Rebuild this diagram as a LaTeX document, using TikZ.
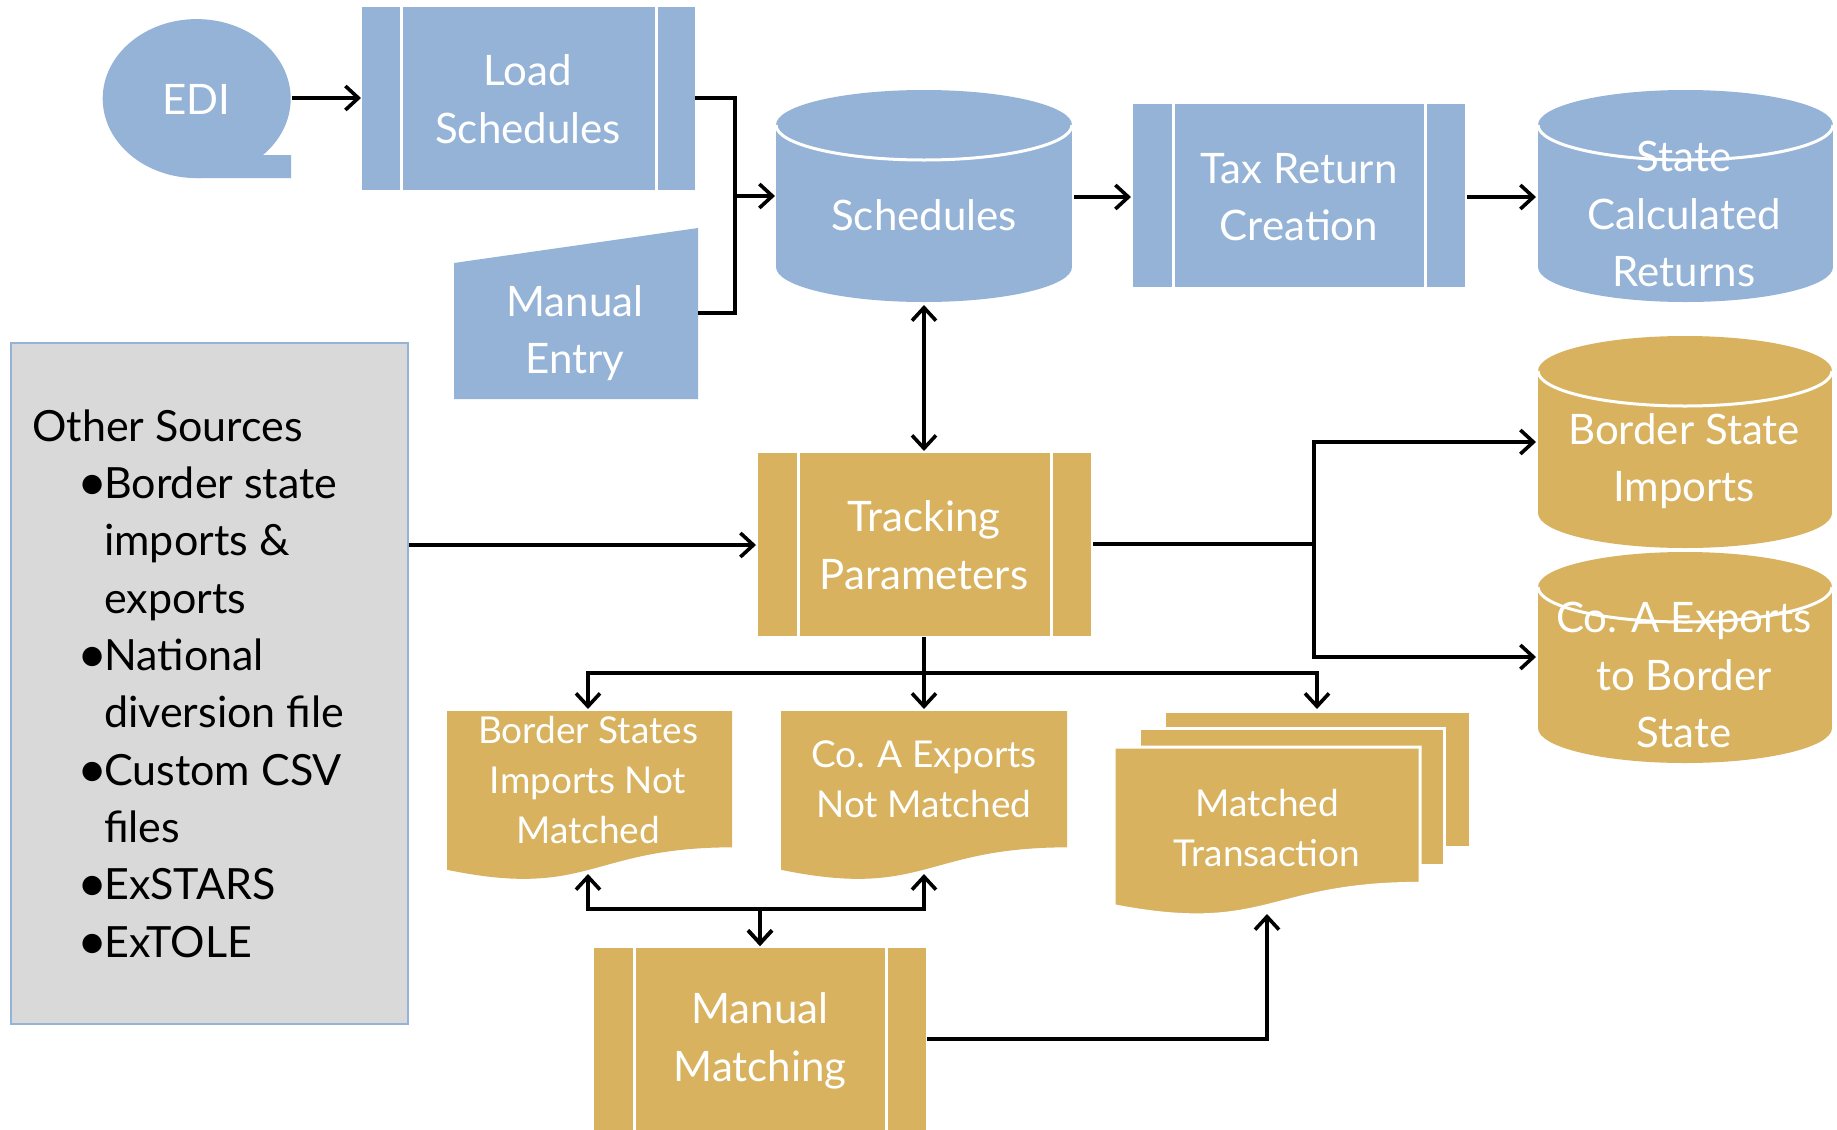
\documentclass[tikz,border=0pt]{standalone}
\usepackage{fontspec}
\setmainfont{Lato}
\usetikzlibrary{arrows.meta}
\definecolor{pblue}{HTML}{95B3D7}
\definecolor{pgold}{HTML}{D8B25E}
\definecolor{pgray}{HTML}{D9D9D9}
% cylinder: color, xL, xR, top, bottom, ry
\newcommand\mycyl[6]{%
  \fill[#1] (#2,#4+#6) rectangle (#3,#5-#6);
  \fill[#1] ({(#2+#3)/2},#4+#6) ellipse[x radius={(#3-#2)/2}, y radius=#6];
  \fill[#1] ({(#2+#3)/2},#5-#6) ellipse[x radius={(#3-#2)/2}, y radius=#6];
  \draw[white, line width=3pt] (#3,#4+#6) arc[start angle=0, end angle=180, x radius={(#3-#2)/2}, y radius=#6];
}
% predefined process: color, xL, xR, top, bottom, bar
\newcommand\myproc[6]{%
  \fill[#1] (#2,#4) rectangle (#3,#5);
  \draw[white, line width=3pt] (#2+#6,#4) -- (#2+#6,#5) (#3-#6,#4) -- (#3-#6,#5);
}
% document: xL, xR, top, h, extra draw options
\newcommand\mydoc[5]{%
  \filldraw[fill=pgold, #5] (#1,#3) -- (#2,#3) -- (#2,#3+0.802*#4)
    .. controls ({(#1+#2)/2},#3+0.802*#4) and ({(#1+#2)/2},#3+1.1075*#4) .. (#1,#3+0.934*#4) -- cycle;
}
\tikzset{
  lbl/.style={text=white, align=center, font=\fontsize{42}{57.5}\selectfont, inner sep=0pt},
  dlbl/.style={lbl, font=\fontsize{37}{50}\selectfont},
  conn/.style={line width=3.6pt, black},
  arr/.style={conn, -{Straight Barb[length=13pt,width=24pt]}},
  darr/.style={conn, {Straight Barb[length=13pt,width=24pt]}-{Straight Barb[length=13pt,width=24pt]}},
  src/.style={font=\fontsize{43}{50}\selectfont, anchor=base west, inner sep=0pt, text=black},
  bul/.style={font=\fontsize{52}{50}\selectfont, anchor=base west, inner sep=0pt, text=black},
}
\begin{document}
\begin{tikzpicture}[x=1pt,y=-1pt]
\clip (0,0) rectangle (1837,1130);
\fill[white] (0,0) rectangle (1837,1130);

% ---------- EDI (magnetic tape) ----------
\fill[pblue] (196.7,98.6) ellipse[x radius=94, y radius=79.5];
\fill[pblue] (263,155) -- (291,155) -- (291,178) -- (196.7,178) -- cycle;
\node[lbl] (edi) at (196,99) {EDI};

% ---------- Load Schedules ----------
\myproc{pblue}{362}{695}{7}{190}{39}
\node[lbl] (load) at (528,99) {Load\\Schedules};

% ---------- Manual Entry ----------
\fill[pblue] (454,263) -- (698,228) -- (698,399) -- (454,399) -- cycle;
\node[lbl] (manent) at (575,333) {Manual\\Entry};

% ---------- Schedules cylinder ----------
\mycyl{pblue}{776}{1072}{90}{302}{35}
\node[lbl] (sched) at (924,215) {Schedules};

% ---------- Tax Return Creation ----------
\myproc{pblue}{1133}{1465}{104}{287}{40}
\node[lbl] (tax) at (1299,197) {Tax Return\\Creation};

% ---------- State Calculated Returns ----------
\mycyl{pblue}{1538}{1833}{90}{302}{35}
\node[lbl] (scr) at (1684,214) {State\\Calculated\\Returns};

% ---------- Other Sources ----------
\filldraw[fill=pgray, draw=pblue, line width=2pt] (11,343) rectangle (408,1024);
\node[src] (os0) at (32,441) {Other Sources};
\node[bul] (b1) at (77,500) {\textbullet};
\node[src] (os1) at (104,498) {Border state};
\node[src] (os2) at (104,555) {imports \&};
\node[src] (os3) at (104,613) {exports};
\node[bul] (b2) at (77,672) {\textbullet};
\node[src] (os4) at (104,670) {National};
\node[src] (os5) at (104,727) {diversion file};
\node[bul] (b3) at (77,787) {\textbullet};
\node[src] (os6) at (104,785) {Custom CSV};
\node[src] (os7) at (104,842) {files};
\node[bul] (b4) at (77,901) {\textbullet};
\node[src] (os8) at (104,899) {ExSTARS};
\node[bul] (b5) at (77,959) {\textbullet};
\node[src] (os9) at (104,957) {ExTOLE};

% ---------- Tracking Parameters ----------
\myproc{pgold}{758}{1091}{453}{636}{40}
\node[lbl] (trk) at (924,545) {Tracking\\Parameters};

% ---------- Border State Imports ----------
\mycyl{pgold}{1538}{1832}{336}{548}{35}
\node[lbl] (bsi) at (1684,461) {Border State\\Imports};

% ---------- Co. A Exports to Border State ----------
\mycyl{pgold}{1538}{1832}{552}{763}{35}
\node[lbl] (cae) at (1684,675) {Co. A Exports\\to Border\\State};

% ---------- Documents ----------
\mydoc{447}{732}{711}{170}{draw=none}
\node[dlbl] (bsd) at (588,780) {Border States\\Imports Not\\Matched};
\mydoc{781}{1067}{711}{170}{draw=none}
\node[dlbl] (coa) at (924,779) {Co. A Exports\\Not Matched};

% multi-document
\filldraw[fill=pgold, draw=white, line width=3pt] (1164,711) rectangle (1470,847);
\filldraw[fill=pgold, draw=white, line width=3pt] (1139,728) rectangle (1444,865);
\mydoc{1114}{1420}{747}{170}{draw=white, line width=3pt}
\node[dlbl] (mt) at (1267,828) {Matched\\Transaction};

% ---------- Manual Matching ----------
\myproc{pgold}{594}{926}{948}{1140}{40}
\node[lbl] (mm) at (760,1041) {Manual\\Matching};

% ---------- connector coordinates ----------
\coordinate (edi-e) at (292,98);
\coordinate (load-w) at (361,98);
\coordinate (load-e) at (695,98);
\coordinate (man-e) at (698,313);
\coordinate (jn) at (735,196);
\coordinate (sch-w) at (775,196);
\coordinate (sch-e) at (1074,197);
\coordinate (tax-w) at (1131,197);
\coordinate (tax-e) at (1467,197);
\coordinate (scr-w) at (1536,197);
\coordinate (sch-s) at (924,305);
\coordinate (trk-n) at (924,451);
\coordinate (oth-e) at (409,545);
\coordinate (trk-w) at (756,545);
\coordinate (trk-e) at (1093,544);
\coordinate (rj) at (1314,544);
\coordinate (bsi-w) at (1536,442);
\coordinate (cae-w) at (1536,657);
\coordinate (trk-s) at (924,637);
\coordinate (tj) at (924,673);
\coordinate (coa-n) at (924,709);
\coordinate (bsd-n) at (588,709);
\coordinate (mt-n) at (1317,709);
\coordinate (bsd-s) at (588,874);
\coordinate (coa-s) at (924,874);
\coordinate (mmj) at (760,909);
\coordinate (mm-n) at (760,946);
\coordinate (mm-e) at (927,1039);
\coordinate (mt-s) at (1267,914);

% ---------- connectors ----------
\draw[arr] (edi-e) -- (load-w);
\draw[conn] (load-e) -| (jn);
\draw[conn] (man-e) -| (jn);
\draw[arr] (jn) -- (sch-w);
\draw[arr] (sch-e) -- (tax-w);
\draw[arr] (tax-e) -- (scr-w);
\draw[darr] (sch-s) -- (trk-n);
\draw[arr] (oth-e) -- (trk-w);
\draw[conn] (trk-e) -- (rj);
\draw[arr] (rj) |- (bsi-w);
\draw[arr] (rj) |- (cae-w);
\draw[conn] (trk-s) -- (tj);
\draw[arr] (tj) -- (coa-n);
\draw[arr] (tj) -| (bsd-n);
\draw[arr] (tj) -| (mt-n);
\draw[darr] (bsd-s) |- (mmj) -- (mm-n);
\draw[darr] (coa-s) |- (mmj) -- (mm-n);
\draw[arr] (mm-e) -| (mt-s);
\end{tikzpicture}
\end{document}
